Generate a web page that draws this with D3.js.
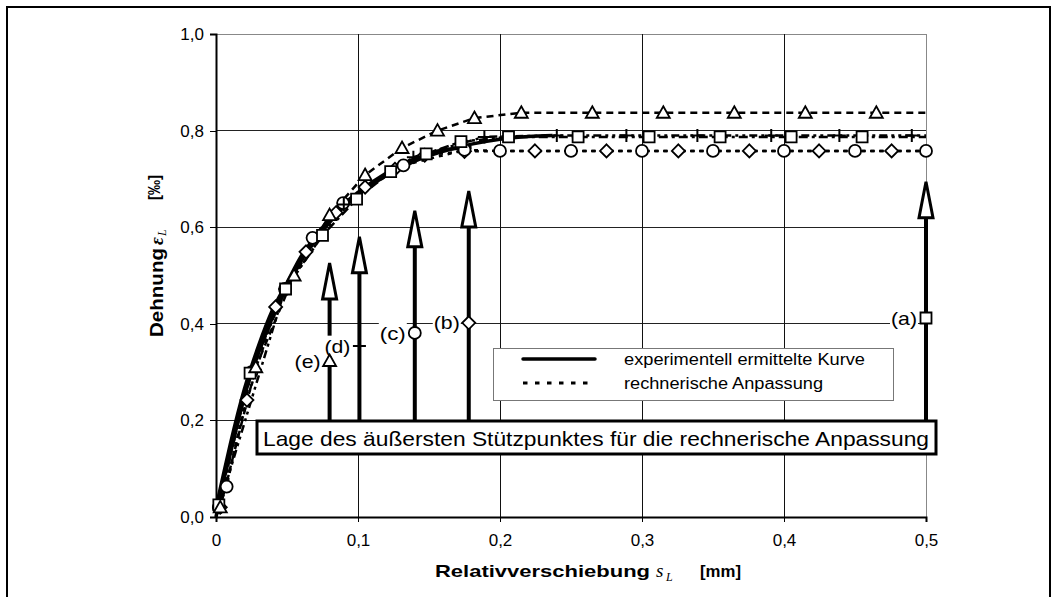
<!DOCTYPE html>
<html>
<head>
<meta charset="utf-8">
<script src="https://cdn.jsdelivr.net/npm/d3@7"></script>
<style>
  body { margin: 0; background: #fff; }
  svg { display: block; font-family: Arial, "Liberation Sans", sans-serif; }
</style>
</head>
<body>
<svg id="chart" width="1059" height="597"></svg>
<script>
// tick values
var xTicks = [0, 0.1, 0.2, 0.3, 0.4, 0.5];
var yTicks = [0, 0.2, 0.4, 0.6, 0.8, 1.0];

// experimental curves (solid)
var expX1 = [0, 0.005, 0.01, 0.02, 0.03, 0.04, 0.05, 0.06, 0.07, 0.08, 0.09, 0.1, 0.12, 0.14, 0.16, 0.18, 0.2, 0.22, 0.237];
var expY1 = [0, 0.07, 0.13, 0.25, 0.34, 0.415, 0.475, 0.53, 0.572, 0.61, 0.642, 0.667, 0.707, 0.737, 0.757, 0.772, 0.782, 0.788, 0.79];
var expX2 = [0, 0.005, 0.01, 0.02, 0.03, 0.04, 0.05, 0.06, 0.07, 0.08, 0.09, 0.1, 0.12, 0.14, 0.16, 0.18];
var expY2 = [0.02, 0.085, 0.15, 0.265, 0.355, 0.43, 0.485, 0.54, 0.58, 0.617, 0.648, 0.672, 0.712, 0.742, 0.76, 0.765];

// fitted curves (markers); the line runs on to 0.5 at the plateau value
var sqX = [0.002, 0.024, 0.049, 0.075, 0.099, 0.123, 0.148, 0.1725, 0.206, 0.255, 0.305, 0.355, 0.405, 0.455];
var sqY = [0.025, 0.298, 0.472, 0.583, 0.658, 0.715, 0.752, 0.777, 0.787, 0.787, 0.787, 0.787, 0.787, 0.787];
var sqEnd = 0.787;

var triX = [0.003, 0.028, 0.055, 0.08, 0.105, 0.131, 0.156, 0.182, 0.215, 0.265, 0.315, 0.365, 0.415, 0.465];
var triY = [0.02, 0.31, 0.50, 0.625, 0.708, 0.764, 0.80, 0.826, 0.837, 0.837, 0.837, 0.837, 0.837, 0.837];
var triEnd = 0.837;

var plusX = [0.002, 0.0486, 0.09, 0.139, 0.189, 0.24, 0.289, 0.339, 0.391, 0.439, 0.49];
var plusY = [0.02, 0.472, 0.647, 0.745, 0.787, 0.79, 0.79, 0.79, 0.79, 0.79, 0.79];
var plusEnd = 0.79;

var circX = [0.002, 0.0075, 0.025, 0.0486, 0.068, 0.0895, 0.132, 0.175, 0.2, 0.25, 0.3, 0.35, 0.4, 0.45, 0.5];
var circY = [0.02, 0.063, 0.30, 0.472, 0.578, 0.65, 0.728, 0.76, 0.758, 0.758, 0.758, 0.758, 0.758, 0.758, 0.758];
var circEnd = 0.758;

var diaX = [0.003, 0.0218, 0.042, 0.0634, 0.0845, 0.105, 0.126, 0.147, 0.175, 0.2246, 0.275, 0.3256, 0.3756, 0.4247, 0.4758];
var diaY = [0.02, 0.242, 0.435, 0.549, 0.63, 0.683, 0.72, 0.749, 0.757, 0.758, 0.758, 0.758, 0.758, 0.758, 0.758];
var diaEnd = 0.758;

// arrows marking the outermost support point
var arrowLabels = ["(a)", "(b)", "(c)", "(d)", "(e)"];
var arrowX = [0.5, 0.178, 0.14, 0.101, 0.08];
var arrowTip = [0.694, 0.675, 0.634, 0.58, 0.526];
var arrowMark = [0.412, 0.402, 0.381, 0.354, 0.323];
var arrowSym = ["square", "diamond", "circle", "plus", "triangle"];
var arrowBase = 0.2;

var svg = d3.select("#chart");

var x = d3.scaleLinear().domain([0, 0.5]).range([216, 926]);
var y = d3.scaleLinear().domain([0, 1]).range([517, 34]);

// outer frame
svg.append("rect").attr("x", 7).attr("y", 7).attr("width", 1043).attr("height", 600)
   .attr("fill", "none").attr("stroke", "#000").attr("stroke-width", 2);

// grid
svg.append("g").selectAll("line").data(yTicks.slice(1)).enter().append("line")
   .attr("x1", x(0)).attr("x2", x(0.5))
   .attr("y1", function (d) { return y(d); }).attr("y2", function (d) { return y(d); })
   .attr("stroke", function (d) { return d === 1 ? "#888" : "#222"; }).attr("stroke-width", 1)
   .attr("shape-rendering", "crispEdges");
svg.append("g").selectAll("line").data(xTicks.slice(1)).enter().append("line")
   .attr("y1", y(0)).attr("y2", y(1))
   .attr("x1", function (d) { return x(d); }).attr("x2", function (d) { return x(d); })
   .attr("stroke", function (d) { return d === 0.5 ? "#888" : "#111"; }).attr("stroke-width", 1)
   .attr("shape-rendering", "crispEdges");

// axes
var fmt = function (d) { return d === 0 && this === "x" ? "0" : d3.format(".1f")(d).replace(".", ","); };
var yAxis = d3.axisLeft(y).tickValues(yTicks).tickSize(6).tickPadding(6)
   .tickFormat(function (d) { return d3.format(".1f")(d).replace(".", ","); });
var xAxis = d3.axisBottom(x).tickValues(xTicks).tickSize(5).tickPadding(12)
   .tickFormat(function (d) { return d === 0 ? "0" : d3.format(".1f")(d).replace(".", ","); });

var gy = svg.append("g").attr("transform", "translate(" + x(0) + ",0)").call(yAxis);
var gx = svg.append("g").attr("transform", "translate(0," + y(0) + ")").call(xAxis);
[gx, gy].forEach(function (g) {
  g.select(".domain").attr("stroke", "#000").attr("stroke-width", 2);
  g.selectAll(".tick line").attr("stroke", "#000").attr("shape-rendering", "crispEdges");
  g.selectAll(".tick text").attr("font-size", 17).attr("font-family", "Arial, 'Liberation Sans'").attr("fill", "#000");
});

// axis titles
var serif = "'Liberation Serif', 'Times New Roman', serif";
var yt = svg.append("g").attr("transform", "rotate(-90)");
yt.append("text").attr("x", -337).attr("y", 163).attr("font-size", 18).attr("font-weight", "bold")
  .attr("textLength", 89).attr("lengthAdjust", "spacingAndGlyphs").text("Dehnung");
yt.append("text").attr("x", -245).attr("y", 163).attr("font-size", 19).attr("font-weight", "bold")
  .attr("font-style", "italic").attr("font-family", serif).text("ε");
yt.append("text").attr("x", -236).attr("y", 166).attr("font-size", 12)
  .attr("font-style", "italic").attr("font-family", serif).text("L");
yt.append("text").attr("x", -200).attr("y", 160).attr("font-size", 16).attr("font-weight", "bold")
  .attr("textLength", 25).attr("lengthAdjust", "spacingAndGlyphs").text("[‰]");

svg.append("text").attr("x", 435).attr("y", 577).attr("font-size", 17).attr("font-weight", "bold")
   .attr("textLength", 215).attr("lengthAdjust", "spacingAndGlyphs").text("Relativverschiebung");
svg.append("text").attr("x", 656).attr("y", 577).attr("font-size", 19)
   .attr("font-style", "italic").attr("font-family", serif).text("s");
svg.append("text").attr("x", 666).attr("y", 581).attr("font-size", 12)
   .attr("font-style", "italic").attr("font-family", serif).text("L");
svg.append("text").attr("x", 700).attr("y", 577).attr("font-size", 17).attr("font-weight", "bold")
   .attr("textLength", 41).attr("lengthAdjust", "spacingAndGlyphs").text("[mm]");

// marker shapes
var shapes = {
  square: "M-5.5,-5.5h11v11h-11z",
  diamond: "M0,-6.5L6.5,0L0,6.5L-6.5,0Z",
  triangle: "M0,-6.5L6.5,5H-6.5Z",
  circle: "M6,0A6,6 0 1,1 -6,0A6,6 0 1,1 6,0Z",
  plus: "M-6.5,0H6.5M0,-6.5V6.5"
};

var line = d3.line().x(function (d) { return x(d[0]); }).y(function (d) { return y(d[1]); });
var smooth = d3.line().curve(d3.curveMonotoneX).x(function (d) { return x(d[0]); }).y(function (d) { return y(d[1]); });

var fits = [
  { xs: diaX, ys: diaY, end: diaEnd, sym: "diamond", dash: "4,5" },
  { xs: circX, ys: circY, end: circEnd, sym: "circle", dash: "4,5" },
  { xs: plusX, ys: plusY, end: plusEnd, sym: "plus", dash: "8,4,3,4,3,4" },
  { xs: sqX, ys: sqY, end: sqEnd, sym: "square", dash: "9,4,3,4" },
  { xs: triX, ys: triY, end: triEnd, sym: "triangle", dash: "7,5" }
];

fits.forEach(function (f) {
  var pts = f.xs.map(function (v, i) { return [v, f.ys[i]]; });
  var lp = pts.slice();
  if (f.xs[f.xs.length - 1] < 0.5) lp.push([0.5, f.end]);
  svg.append("path").attr("d", line(lp)).attr("fill", "none")
     .attr("stroke", "#000").attr("stroke-width", 2.5).attr("stroke-dasharray", f.dash);
  f.pts = pts;
});

// experimental curves
[[expX1, expY1], [expX2, expY2]].forEach(function (c) {
  var pts = c[0].map(function (v, i) { return [v, c[1][i]]; });
  svg.append("path").attr("d", smooth(pts)).attr("fill", "none")
     .attr("stroke", "#000").attr("stroke-width", 3.5).attr("stroke-linejoin", "round");
});

fits.forEach(function (f) {
  svg.append("g").selectAll("path").data(f.pts).enter().append("path")
     .attr("transform", function (d) { return "translate(" + x(d[0]) + "," + y(d[1]) + ")"; })
     .attr("d", shapes[f.sym])
     .attr("fill", f.sym === "plus" ? "none" : "#fff")
     .attr("stroke", "#000").attr("stroke-width", f.sym === "plus" ? 2 : 1.8);
});

// legend
var lg = svg.append("g");
lg.append("rect").attr("x", 493.5).attr("y", 348.5).attr("width", 400).attr("height", 52)
  .attr("fill", "#fff").attr("stroke", "#777").attr("stroke-width", 1);
lg.append("line").attr("x1", 523).attr("x2", 595).attr("y1", 359).attr("y2", 359)
  .attr("stroke", "#000").attr("stroke-width", 3.5).attr("stroke-linecap", "round");
lg.append("line").attr("x1", 523).attr("x2", 595).attr("y1", 383).attr("y2", 383)
  .attr("stroke", "#000").attr("stroke-width", 3).attr("stroke-dasharray", "4.5,7.5");
lg.append("text").attr("x", 624).attr("y", 365).attr("font-size", 16)
  .attr("textLength", 241).attr("lengthAdjust", "spacingAndGlyphs").text("experimentell ermittelte Kurve");
lg.append("text").attr("x", 624).attr("y", 389).attr("font-size", 16)
  .attr("textLength", 199).attr("lengthAdjust", "spacingAndGlyphs").text("rechnerische Anpassung");

// arrows
var ag = svg.append("g");
arrowX.forEach(function (ax, i) {
  var px = x(ax), tip = y(arrowTip[i]), base = tip + 36;
  ag.append("line").attr("x1", px).attr("x2", px).attr("y1", y(arrowBase)).attr("y2", base)
    .attr("stroke", "#000").attr("stroke-width", 4);
  ag.append("path").attr("d", "M" + px + "," + tip + "L" + (px + 7) + "," + base + "H" + (px - 7) + "Z")
    .attr("fill", "#fff").attr("stroke", "#000").attr("stroke-width", 3).attr("stroke-linejoin", "miter");
});

// text box
svg.append("rect").attr("x", 257).attr("y", 421).attr("width", 679).attr("height", 33)
   .attr("fill", "#fff").attr("stroke", "#000").attr("stroke-width", 3);
svg.append("text").attr("x", 263).attr("y", 446).attr("font-size", 21)
   .attr("textLength", 666).attr("lengthAdjust", "spacingAndGlyphs")
   .text("Lage des äußersten Stützpunktes für die rechnerische Anpassung");

// arrow labels with markers
arrowX.forEach(function (ax, i) {
  var px = x(ax), py = y(arrowMark[i]);
  var t = svg.append("text").attr("x", px - 35).attr("y", py).attr("dy", "0.35em")
     .attr("font-size", 19).attr("textLength", 26).attr("lengthAdjust", "spacingAndGlyphs")
     .text(arrowLabels[i]);
  var bb = t.node().getBBox();
  svg.insert("rect", function () { return t.node(); })
     .attr("x", bb.x - 1).attr("y", bb.y).attr("width", bb.width + 2).attr("height", bb.height).attr("fill", "#fff");
  svg.append("path").attr("transform", "translate(" + px + "," + py + ")")
     .attr("d", shapes[arrowSym[i]])
     .attr("fill", arrowSym[i] === "plus" ? "none" : "#fff")
     .attr("stroke", "#000").attr("stroke-width", arrowSym[i] === "plus" ? 2 : 1.8);
});
</script>
</body>
</html>
